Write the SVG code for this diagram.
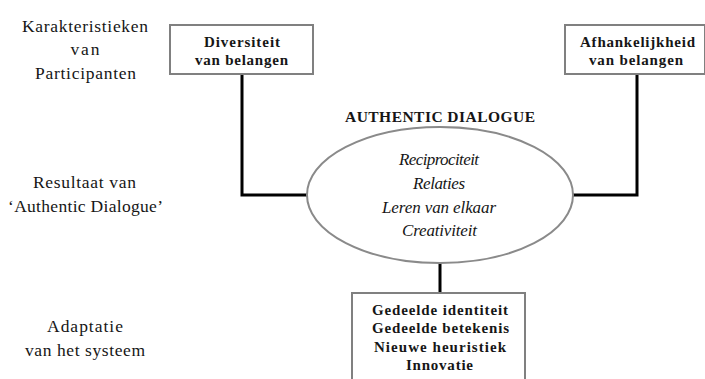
<svg xmlns="http://www.w3.org/2000/svg" width="705" height="379" viewBox="0 0 705 379">
  <style>
    .box { fill: #ffffff; stroke: #808080; stroke-width: 2; }
    .oval { fill: #ffffff; stroke: #8a8a8a; stroke-width: 2; }
    .wire { fill: none; stroke: #000000; stroke-width: 3; }
    text { font-family: "Liberation Serif", "Times New Roman", serif; fill: #161616; text-anchor: middle; }
    .side { font-size: 17.5px; }
    .bold { font-size: 15px; font-weight: bold; }
    .title { font-size: 15.5px; font-weight: bold; }
    .ital { font-size: 17px; font-style: italic; }
  </style>
  <rect width="705" height="379" fill="#ffffff"/>

  <!-- row labels -->
  <g id="label-participants" class="side">
    <text x="85" y="31.5" textLength="126">Karakteristieken</text>
    <text x="85" y="55" textLength="29">van</text>
    <text x="85.5" y="78.5" textLength="101">Participanten</text>
  </g>
  <g id="label-result" class="side">
    <text x="84.5" y="188" textLength="103">Resultaat van</text>
    <text x="85.5" y="212" textLength="155">‘Authentic Dialogue’</text>
  </g>
  <g id="label-adaptation" class="side">
    <text x="85" y="332" textLength="76">Adaptatie</text>
    <text x="85" y="355.5" textLength="120">van het systeem</text>
  </g>

  <!-- connectors -->
  <g id="connectors">
    <polyline class="wire" points="242,74 242,195 308,195"/>
    <polyline class="wire" points="637,74 637,195 572,195"/>
    <line class="wire" x1="440" y1="263" x2="440" y2="293"/>
  </g>

  <g id="diversiteit">
    <rect class="box" x="170" y="25" width="143" height="49"/>
    <text class="bold" x="242" y="47" textLength="76">Diversiteit</text>
    <text class="bold" x="241.5" y="65" textLength="93">van belangen</text>
  </g>

  <g id="afhankelijkheid">
    <rect class="box" x="565" y="25" width="140" height="49"/>
    <text class="bold" x="637.5" y="47" textLength="115">Afhankelijkheid</text>
    <text class="bold" x="636" y="65" textLength="94">van belangen</text>
  </g>

  <g id="dialogue">
    <text class="title" x="440" y="122" textLength="190">AUTHENTIC DIALOGUE</text>
    <ellipse class="oval" cx="440" cy="195" rx="133" ry="68"/>
    <text class="ital" x="439" y="165" textLength="80">Reciprociteit</text>
    <text class="ital" x="439" y="189" textLength="52">Relaties</text>
    <text class="ital" x="439" y="213" textLength="114">Leren van elkaar</text>
    <text class="ital" x="439.5" y="236" textLength="75">Creativiteit</text>
  </g>

  <g id="adaptatie">
    <rect class="box" x="352" y="293" width="173" height="100"/>
    <text class="bold" x="440" y="315" textLength="136">Gedeelde identiteit</text>
    <text class="bold" x="440.5" y="333" textLength="137">Gedeelde betekenis</text>
    <text class="bold" x="440" y="352" textLength="132">Nieuwe heuristiek</text>
    <text class="bold" x="439.5" y="370" textLength="67">Innovatie</text>
  </g>
</svg>
